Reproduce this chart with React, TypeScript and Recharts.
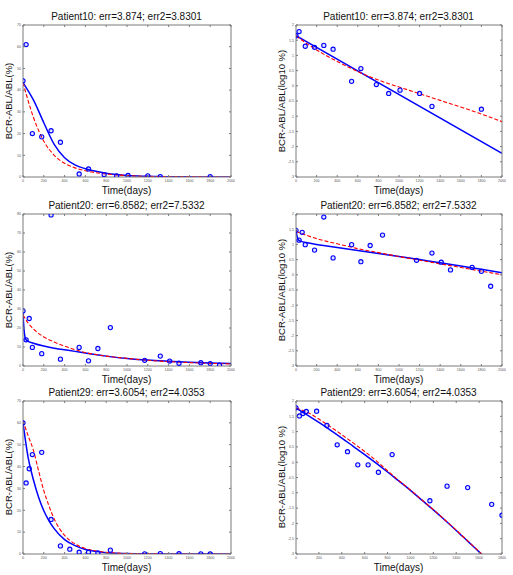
import React from 'react';
import { ComposedChart, Line, Scatter, XAxis, YAxis } from 'recharts';

// Measured BCR-ABL/ABL ratios (%) by day of treatment
const days10 = [0, 30, 90, 180, 270, 360, 540, 630, 780, 900, 1010, 1200, 1320, 1800];
const ratio10 = [44.3, 61, 20, 18.5, 21.3, 16, 1.4, 3.7, 1.1, 0.56, 0.72, 0.56, 0.21, 0.17];

const days20 = [0, 30, 60, 90, 180, 270, 360, 540, 630, 720, 840, 1170, 1320, 1410, 1500, 1710, 1800, 1890];
const ratio20 = [29, 13.8, 25, 9.8, 6.5, 79.5, 3.6, 9.8, 2.7, 9.2, 20.2, 3.0, 5.2, 2.6, 1.45, 1.75, 1.3, 0.42];

const days29 = [0, 30, 60, 90, 180, 270, 360, 450, 540, 630, 720, 840, 1170, 1320, 1500, 1710, 1800];
const ratio29 = [60, 32.5, 39, 45.5, 46.5, 15.8, 3.7, 2.2, 0.82, 0.82, 0.47, 1.77, 0.055, 0.165, 0.148, 0.042, 0.0185];

// Model fits (solid = model 1, dashed = model 2)
const fitDays = [0, 100, 200, 300, 400, 500, 600, 700, 800, 900, 1000, 1100, 1200, 1300, 1400, 1500, 1600, 1700, 1800, 1900, 2000];

const p10LinSolid = [43.5, 35.5, 25, 15, 8.9, 5.6, 3.8, 2.6, 1.7, 1.1, 0.7, 0.45, 0.3, 0.2, 0.13, 0.09, 0.06, 0.04, 0.03, 0.02, 0.01];
const p10LinDashed = [43.5, 27.5, 16.5, 10, 6.3, 4.2, 2.9, 2.0, 1.4, 0.95, 0.65, 0.45, 0.3, 0.2, 0.13, 0.09, 0.06, 0.04, 0.03, 0.02, 0.01];
const p10LogSolidDays = [0, 2000];
const p10LogSolid = [1.65, -2.22];
const p10LogDashed = [1.64, 1.4, 1.18, 0.98, 0.8, 0.63, 0.47, 0.32, 0.19, 0.07, -0.04, -0.15, -0.26, -0.37, -0.48, -0.59, -0.7, -0.81, -0.93, -1.05, -1.18];

const p20SolidDays = [0, 10, 20, 30, 50, 100, 200, 300, 400, 500, 600, 800, 1000, 1200, 1400, 1600, 1800, 2000];
const p20LinSolid = [28, 19, 15, 13.8, 13, 12, 10.5, 9.4, 8.5, 7.7, 6.8, 5.2, 4.0, 3.1, 2.5, 2.0, 1.6, 1.3];
const p20LogSolid = [1.47, 1.27, 1.17, 1.13, 1.1, 1.06, 1.0, 0.95, 0.9, 0.85, 0.8, 0.7, 0.6, 0.5, 0.4, 0.29, 0.18, 0.07];
const p20DashedDays = [0, 50, 100, 200, 300, 400, 500, 600, 800, 1000, 1200, 1400, 1600, 1800, 2000];
const p20LinDashed = [27, 22.5, 19.5, 15.3, 12.6, 10.5, 8.6, 7.1, 5.2, 4.0, 3.0, 2.3, 1.8, 1.4, 1.1];
const p20LogDashed = [1.43, 1.36, 1.3, 1.19, 1.1, 1.02, 0.94, 0.86, 0.73, 0.6, 0.48, 0.36, 0.24, 0.12, 0.0];

const p29LinDays = [0, 50, 100, 150, 200, 250, 300, 400, 500, 600, 700, 800, 900, 1000, 1200, 1400, 1600, 1800, 2000];
const p29LinSolid = [60, 44, 34, 26, 19.8, 15.2, 11.6, 6.6, 3.8, 2.1, 1.2, 0.6, 0.35, 0.2, 0.07, 0.02, 0.01, 0, 0];
const p29LinDashed = [61, 54, 47.5, 38, 29, 22, 16, 8.5, 4.6, 2.5, 1.4, 0.75, 0.4, 0.22, 0.07, 0.02, 0.01, 0, 0];
const p29LogDays = [0, 100, 200, 300, 400, 500, 600, 700, 800, 900, 1000, 1100, 1200, 1300, 1400, 1500, 1600, 1700];
const p29LogSolid = [1.77, 1.54, 1.3, 1.05, 0.79, 0.52, 0.25, -0.03, -0.32, -0.62, -0.92, -1.24, -1.56, -1.89, -2.23, -2.58, -2.93, -3.3];
const p29LogDashed = [1.77, 1.63, 1.41, 1.16, 0.9, 0.63, 0.35, 0.05, -0.28, -0.6, -0.91, -1.23, -1.55, -1.88, -2.22, -2.57, -2.92, -3.28];

// Axis ticks
const xTicks2000 = [0, 200, 400, 600, 800, 1000, 1200, 1400, 1600, 1800, 2000];
const xTicks1800 = [0, 200, 400, 600, 800, 1000, 1200, 1400, 1600, 1800];
const yTicks70 = [0, 10, 20, 30, 40, 50, 60, 70];
const yTicks80 = [0, 10, 20, 30, 40, 50, 60, 70, 80];
const yTicksLog = [-3, -2.5, -2, -1.5, -1, -0.5, 0, 0.5, 1, 1.5, 2];

const FONT = '"Liberation Sans", Arial, Helvetica, sans-serif';
const BOX = '#7a7a7a';
const TICK_TEXT = '#555';
const BLUE = '#0000ff';
const RED = '#ff0000';
const TICK_LEN = 2;
const TICK_FONT = 3.6;

type Pt = { t: number; v: number };
const pairs = (xs: number[], ys: number[]): Pt[] => xs.map((t, i) => ({ t, v: ys[i] }));
const log10All = (ys: number[]) => ys.map((y) => Math.log10(y));

const BottomTick = ({ x, y, payload }: any) => (
  <g>
    <line x1={x} x2={x} y1={y} y2={y - TICK_LEN} stroke={BOX} />
    <text x={x} y={y + 4.8} textAnchor="middle" fontSize={TICK_FONT} fill={TICK_TEXT} fontFamily={FONT}>
      {payload.value}
    </text>
  </g>
);

const TopTick = ({ x, y }: any) => <line x1={x} x2={x} y1={y} y2={y + TICK_LEN} stroke={BOX} />;

const LeftTick = ({ x, y, payload }: any) => (
  <g>
    <line x1={x} x2={x + TICK_LEN} y1={y} y2={y} stroke={BOX} />
    <text x={x - 2} y={y + 1.3} textAnchor="end" fontSize={TICK_FONT} fill={TICK_TEXT} fontFamily={FONT}>
      {payload.value}
    </text>
  </g>
);

const RightTick = ({ x, y }: any) => <line x1={x} x2={x - TICK_LEN} y1={y} y2={y} stroke={BOX} />;

const Marker = ({ cx, cy }: any) => (
  <circle cx={cx} cy={cy} r={2.1} fill="rgba(0,0,255,0.12)" stroke={BLUE} strokeWidth={1.1} />
);

interface Box {
  x: number;
  y: number;
  w: number;
  h: number;
}

interface PanelProps {
  box: Box;
  title: string;
  yLabel: string;
  yDomain: [number, number];
  yTicks: number[];
  xTicks: number[];
  points: Pt[];
  solid: Pt[];
  dashed: Pt[];
}

// room around the plot box for the tick labels; each axis band is 1px thick
const PAD = { left: 20, right: 4, top: 4, bottom: 9 };
const BAND = 1;

function Panel({ box, title, yLabel, yDomain, yTicks, xTicks, points, solid, dashed }: PanelProps) {
  const xDomain: [number, number] = [0, xTicks[xTicks.length - 1]];
  const text: React.CSSProperties = {
    position: 'absolute',
    lineHeight: 1,
    whiteSpace: 'nowrap',
    color: '#111',
    fontFamily: FONT,
  };
  const xAxisCommon = {
    type: 'number' as const,
    dataKey: 't',
    domain: xDomain,
    ticks: xTicks,
    allowDataOverflow: true,
    interval: 0 as const,
    height: BAND,
    tickSize: 0,
    tickMargin: 0,
    tickLine: false,
    axisLine: { stroke: BOX },
  };
  const yAxisCommon = {
    type: 'number' as const,
    dataKey: 'v',
    domain: yDomain,
    ticks: yTicks,
    allowDataOverflow: true,
    interval: 0 as const,
    width: BAND,
    tickSize: 0,
    tickMargin: 0,
    tickLine: false,
    axisLine: { stroke: BOX },
  };
  return (
    <>
      <div style={{ position: 'absolute', left: box.x - PAD.left, top: box.y - PAD.top }}>
        <ComposedChart
          width={box.w + PAD.left + PAD.right}
          height={box.h + PAD.top + PAD.bottom}
          margin={{
            left: PAD.left - BAND,
            right: PAD.right - BAND,
            top: PAD.top - BAND,
            bottom: PAD.bottom - BAND,
          }}
        >
          <XAxis xAxisId="b" orientation="bottom" {...xAxisCommon} tick={BottomTick} />
          <XAxis xAxisId="t" orientation="top" {...xAxisCommon} tick={TopTick} />
          <YAxis yAxisId="l" orientation="left" {...yAxisCommon} tick={LeftTick} />
          <YAxis yAxisId="r" orientation="right" {...yAxisCommon} tick={RightTick} />
          <Scatter xAxisId="b" yAxisId="l" data={points} shape={Marker} isAnimationActive={false} />
          <Line
            xAxisId="b"
            yAxisId="l"
            data={solid}
            dataKey="v"
            type="monotone"
            stroke={BLUE}
            strokeWidth={1.5}
            dot={false}
            activeDot={false}
            isAnimationActive={false}
          />
          <Line
            xAxisId="b"
            yAxisId="l"
            data={dashed}
            dataKey="v"
            type="monotone"
            stroke={RED}
            strokeWidth={1.1}
            strokeDasharray="4 2"
            dot={false}
            activeDot={false}
            isAnimationActive={false}
          />
        </ComposedChart>
      </div>
      <div style={{ ...text, left: box.x + box.w / 2, top: box.y - 8, fontSize: 10, transform: 'translate(-50%, -50%)' }}>
        {title}
      </div>
      <div style={{ ...text, left: box.x + box.w / 2, top: box.y + box.h + 14.7, fontSize: 10, transform: 'translate(-50%, -50%)' }}>
        Time(days)
      </div>
      <div
        style={{
          ...text,
          left: box.x - 14,
          top: box.y + box.h / 2,
          fontSize: 9.5,
          transform: 'translate(-50%, -50%) rotate(-90deg)',
        }}
      >
        {yLabel}
      </div>
    </>
  );
}

const LEFT_X = 22.5;
const RIGHT_X = 295.5;
const LEFT_W = 208;
const RIGHT_W = 206;

const panels: PanelProps[] = [
  {
    box: { x: LEFT_X, y: 24.5, w: LEFT_W, h: 152 },
    title: 'Patient10: err=3.874; err2=3.8301',
    yLabel: 'BCR-ABL/ABL(%)',
    yDomain: [0, 70],
    yTicks: yTicks70,
    xTicks: xTicks2000,
    points: pairs(days10, ratio10),
    solid: pairs(fitDays, p10LinSolid),
    dashed: pairs(fitDays, p10LinDashed),
  },
  {
    box: { x: RIGHT_X, y: 24.5, w: RIGHT_W, h: 152 },
    title: 'Patient10: err=3.874; err2=3.8301',
    yLabel: 'BCR-ABL/ABL(log10 %)',
    yDomain: [-3, 2],
    yTicks: yTicksLog,
    xTicks: xTicks2000,
    points: pairs(days10, log10All(ratio10)),
    solid: pairs(p10LogSolidDays, p10LogSolid),
    dashed: pairs(fitDays, p10LogDashed),
  },
  {
    box: { x: LEFT_X, y: 213.5, w: LEFT_W, h: 152 },
    title: 'Patient20: err=6.8582; err2=7.5332',
    yLabel: 'BCR-ABL/ABL(%)',
    yDomain: [0, 80],
    yTicks: yTicks80,
    xTicks: xTicks2000,
    points: pairs(days20, ratio20),
    solid: pairs(p20SolidDays, p20LinSolid),
    dashed: pairs(p20DashedDays, p20LinDashed),
  },
  {
    box: { x: RIGHT_X, y: 213.5, w: RIGHT_W, h: 152 },
    title: 'Patient20: err=6.8582; err2=7.5332',
    yLabel: 'BCR-ABL/ABL(log10 %)',
    yDomain: [-3, 2],
    yTicks: yTicksLog,
    xTicks: xTicks2000,
    points: pairs(days20, log10All(ratio20)),
    solid: pairs(p20SolidDays, p20LogSolid),
    dashed: pairs(p20DashedDays, p20LogDashed),
  },
  {
    box: { x: LEFT_X, y: 400.5, w: LEFT_W, h: 153 },
    title: 'Patient29: err=3.6054; err2=4.0353',
    yLabel: 'BCR-ABL/ABL(%)',
    yDomain: [0, 70],
    yTicks: yTicks70,
    xTicks: xTicks2000,
    points: pairs(days29, ratio29),
    solid: pairs(p29LinDays, p29LinSolid),
    dashed: pairs(p29LinDays, p29LinDashed),
  },
  {
    box: { x: RIGHT_X, y: 400.5, w: RIGHT_W, h: 153 },
    title: 'Patient29: err=3.6054; err2=4.0353',
    yLabel: 'BCR-ABL/ABL(log10 %)',
    yDomain: [-3, 2],
    yTicks: yTicksLog,
    xTicks: xTicks1800,
    points: pairs(days29, log10All(ratio29)),
    solid: pairs(p29LogDays, p29LogSolid),
    dashed: pairs(p29LogDays, p29LogDashed),
  },
];

export default function App() {
  return (
    <div
      style={{
        position: 'absolute',
        left: 0,
        top: 0,
        width: 513,
        height: 575,
        background: '#fff',
        overflow: 'hidden',
      }}
    >
      {panels.map((p, i) => (
        <Panel key={i} {...p} />
      ))}
    </div>
  );
}
